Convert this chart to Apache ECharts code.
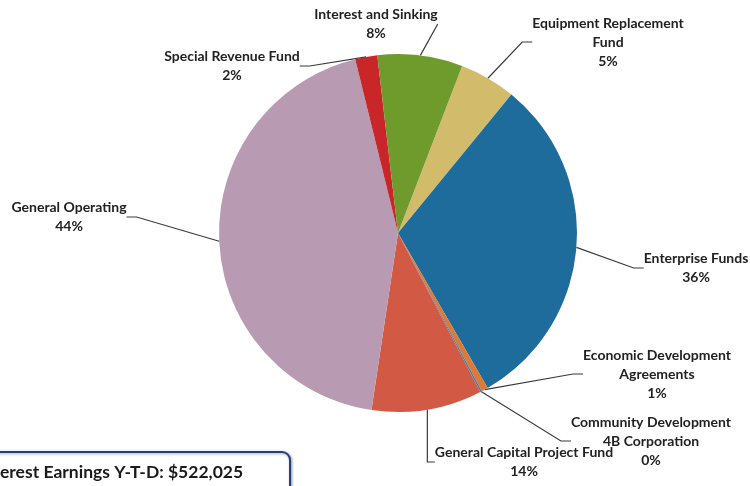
<!DOCTYPE html>
<html>
<head>
<meta charset="utf-8">
<script src="https://cdn.jsdelivr.net/npm/echarts@6/dist/echarts.min.js"></script>
<style>
html,body{margin:0;padding:0;background:#fff;}
#chart{width:750px;height:486px;}
</style>
</head>
<body>
<div id="chart"></div>
<script>
// Categories in clockwise order starting after "Interest and Sinking"
var categories = [
  'Equipment Replacement Fund',
  'Enterprise Funds',
  'Economic Development Agreements',
  'Community Development 4B Corporation',
  'General Capital Project Fund',
  'General Operating',
  'Special Revenue Fund',
  'Interest and Sinking'
];
var sliceValues = [5.1, 30.8, 0.6, 0.15, 10.0, 43.9, 2.0, 7.7];
// Percent labels as printed in the chart
var labelPercents = ['5%', '36%', '1%', '0%', '14%', '44%', '2%', '8%'];
var footerText = 'erest Earnings Y-T-D: $522,025';

var colors = ['#d3bb6c', '#1d6c9b', '#e07a32', '#3b7fc2', '#d25a44', '#b89bb2', '#c9262a', '#6f9b2c'];
var breaks = {
  'Equipment Replacement Fund': 'Equipment Replacement\nFund',
  'Economic Development Agreements': 'Economic Development\nAgreements',
  'Community Development 4B Corporation': 'Community Development\n4B Corporation'
};
// label block centers (layout)
var labelPos = [
  [608, 42], [696, 268], [657, 374], [651, 441],
  [524, 462], [69, 217], [232, 66], [376, 24]
];

var data = categories.map(function (c, i) {
  return { name: c, value: sliceValues[i], itemStyle: { color: colors[i] } };
});

var chart = echarts.init(document.getElementById('chart'), null, { renderer: 'canvas' });
chart.setOption({
  animation: false,
  backgroundColor: '#ffffff',
  series: [{
    type: 'pie',
    center: [398, 233],
    radius: [0, 179],
    startAngle: 69,
    clockwise: true,
    avoidLabelOverlap: false,
    minAngle: 0,
    data: data,
    itemStyle: { borderWidth: 0 },
    label: {
      show: true,
      position: 'outside',
      formatter: function (p) {
        var n = breaks[p.name] || p.name;
        return n + '\n' + labelPercents[p.dataIndex];
      },
      fontFamily: 'Lato',
      fontWeight: 'bold',
      fontSize: 14,
      lineHeight: 19,
      color: '#222222',
      align: 'center'
    },
    labelLine: {
      show: true,
      length: 10,
      length2: 10,
      lineStyle: { color: '#3a3a3a', width: 1.2 }
    },
    labelLayout: function (params) {
      var p = labelPos[params.dataIndex];
      return { x: p[0], y: p[1], align: 'center', verticalAlign: 'middle' };
    },
    emphasis: { disabled: true }
  }],
  graphic: [
    {
      type: 'rect',
      shape: { x: -12, y: 452, width: 302, height: 60, r: 8 },
      style: {
        fill: '#ffffff', stroke: '#24407a', lineWidth: 2,
        shadowBlur: 3, shadowColor: 'rgba(0,0,0,0.35)', shadowOffsetX: 1, shadowOffsetY: 1
      },
      z: 10
    },
    {
      type: 'text',
      left: 0,
      top: 463,
      style: {
        text: footerText,
        font: 'bold 17.5px Lato',
        fill: '#1a1a1a'
      },
      z: 11
    }
  ]
});
</script>
</body>
</html>
